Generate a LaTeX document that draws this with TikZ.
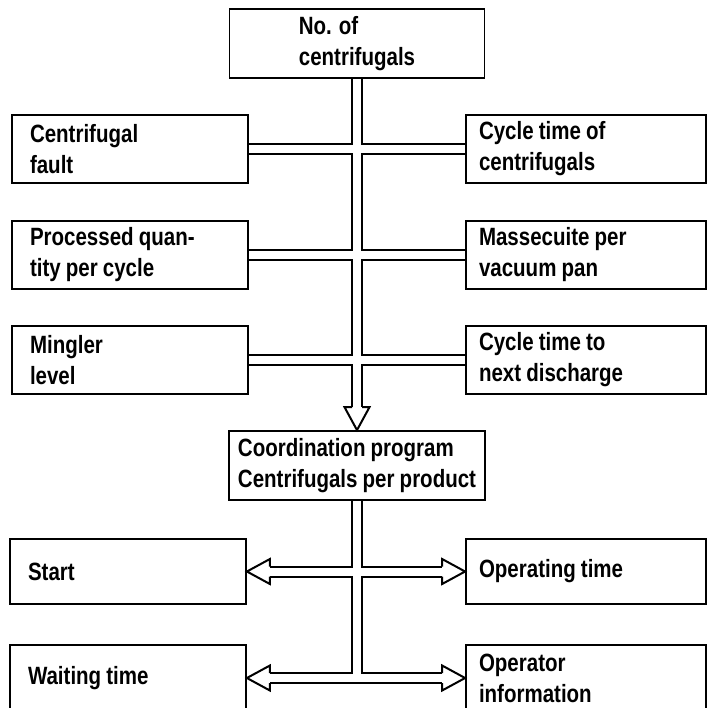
\documentclass[tikz,border=0pt]{standalone}
\usepackage{fontspec}
\setmainfont{Liberation Sans}[FakeStretch=0.82,WordSpace=0.9]
\usetikzlibrary{calc, backgrounds}
\tikzset{box/.style={rectangle,draw,fill=white,line width=0.9pt,align=flush left,inner sep=0pt,minimum height=34pt,font=\bfseries\fontsize{12.5}{15.5}\selectfont},lbox/.style={box,minimum width=118pt,text width=100pt},rbox/.style={box,minimum width=120pt,text width=107pt},cbox/.style={box,minimum height=34.5pt},head/.pic={\fill[white] (0,0) -- (-23,-12.5) -- (-23,12.5) -- cycle; \draw[line width=1pt,line join=miter] (-23,-5) -- (-23,-12.5) -- (0,0) -- (-23,12.5) -- (-23,5);}}

\begin{document}
\begin{tikzpicture}[x=0.5pt,y=-0.5pt]
\useasboundingbox (0,0) rectangle (711,707);
% inputs
\node[cbox,minimum width=127.5pt] (num) at (357,43.5) {No. of\\centrifugals};
\node[lbox] (fault) at (130,149) {Centrifugal\\fault};
\node[rbox] (cycle) at (586,149) {Cycle time of\\centrifugals};
\node[lbox] (qty) at (130,255) {Processed quan-\\tity per cycle};
\node[rbox] (mass) at (586,255) {Massecuite per\\vacuum pan};
\node[lbox] (mingler) at (130,360) {Mingler\\level};
\node[rbox] (next) at (586,360) {Cycle time to\\next discharge};
\node[cbox,minimum width=128pt] (coord) at (357,465.5) {Coordination program\\Centrifugals per product};
% outputs
\node[lbox,minimum height=32.5pt] (start) at (128,571.5) {Start};
\node[rbox,minimum height=32.5pt] (optime) at (586,571.5) {Operating time};
\node[lbox,minimum height=33pt] (wait) at (128,678) {Waiting time};
\node[rbox,minimum height=33pt] (opinfo) at (586,678) {Operator\\information};
\begin{scope}[on background layer]
\foreach \w/\col in {6pt/black,4pt/white}{
  \draw[line width=\w,\col] (num.south) -- ($(coord.north)+(0,-22)$);
  \draw[line width=\w,\col] (fault.east) -- (cycle.west);
  \draw[line width=\w,\col] (qty.east) -- (mass.west);
  \draw[line width=\w,\col] (mingler.east) -- (next.west);
  \draw[line width=\w,\col] (coord.south) -- (coord.south |- wait.east);
  \draw[line width=\w,\col] ($(start.east)+(22,0)$) -- ($(optime.west)+(-22,0)$);
  \draw[line width=\w,\col] ($(wait.east)+(22,0)$) -- ($(opinfo.west)+(-22,0)$);
}
\end{scope}
\pic[rotate=-90] at (coord.north) {head};
\pic at (optime.west) {head};
\pic[rotate=180] at (start.east) {head};
\pic at (opinfo.west) {head};
\pic[rotate=180] at (wait.east) {head};
\end{tikzpicture}
\end{document}
